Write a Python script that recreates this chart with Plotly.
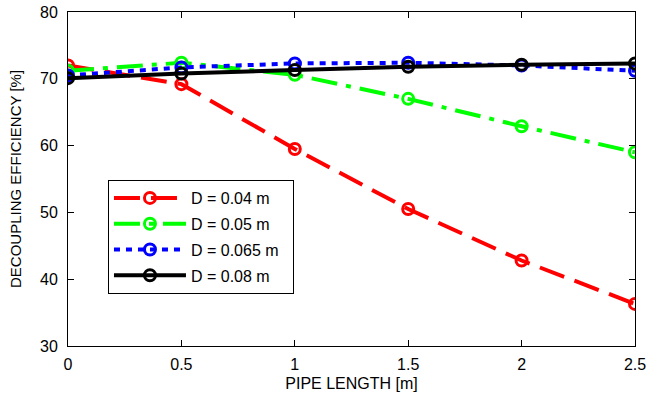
import plotly.graph_objects as go

pipe_length = [0, 0.5, 1.0, 1.5, 2.0, 2.5]
d_004 = [72.0, 69.2, 59.5, 50.5, 42.8, 36.3]
d_005 = [71.2, 72.4, 70.6, 67.0, 62.9, 59.0]
d_0065 = [70.5, 71.7, 72.3, 72.4, 72.0, 71.2]
d_008 = [70.1, 70.8, 71.3, 71.8, 72.1, 72.3]

names = ["D = 0.04 m", "D = 0.05 m", "D = 0.065 m", "D = 0.08 m"]
series = [d_004, d_005, d_0065, d_008]
colors = ["#ff0000", "#00ff00", "#0000ff", "#000000"]
dashes = ["26px,11px", "26px,9px,5px,9px", "6px,6px", "solid"]

fig = go.Figure()
for i, (name, ys, c, d) in enumerate(zip(names, series, colors, dashes)):
    fig.add_trace(go.Scatter(
        x=pipe_length, y=ys, name=name + "\u00a0\u00a0", mode="lines+markers", legendgroup=f"g{i}",
        line=dict(color=c, width=4, dash=d),
        marker=dict(symbol="circle-open", size=11, color=c, line=dict(width=3, color=c)),
    ))

font = "Liberation Sans, Arial, sans-serif"
fig.update_layout(
    width=648, height=405,
    margin=dict(l=68, r=13, t=12, b=59),
    plot_bgcolor="white", paper_bgcolor="white",
    font=dict(family=font, size=15, color="black"),
    showlegend=True,
    legend=dict(x=0.0705, y=0.497, xanchor="left", yanchor="top",
                bordercolor="black", borderwidth=1, bgcolor="white",
                font=dict(size=16), tracegroupgap=2, itemwidth=72),
    xaxis=dict(range=[0, 2.5], tickvals=[0, 0.5, 1, 1.5, 2, 2.5],
               ticktext=["0", "0.5", "1", "1.5", "2", "2.5"], automargin=False,
               showgrid=False, zeroline=False, showline=True, linecolor="black",
               linewidth=1, mirror="ticks", ticks="inside", ticklen=6,
               tickcolor="black", tickfont=dict(size=16), ticklabelstandoff=4,
               title=dict(text="PIPE LENGTH [m]", font=dict(size=16), standoff=5)),
    yaxis=dict(range=[30, 80], tickvals=[30, 40, 50, 60, 70, 80], automargin=False,
               showgrid=False, zeroline=False, showline=True, linecolor="black",
               linewidth=1, mirror="ticks", ticks="inside", ticklen=6,
               tickcolor="black", tickfont=dict(size=16), ticklabelstandoff=6,
               title=dict(text="DECOUPLING EFFICIENCY [%]", font=dict(size=15), standoff=14)),
)

fig.write_html("out.html", config={"displayModeBar": False},
               post_script="document.body.style.margin='0';")
